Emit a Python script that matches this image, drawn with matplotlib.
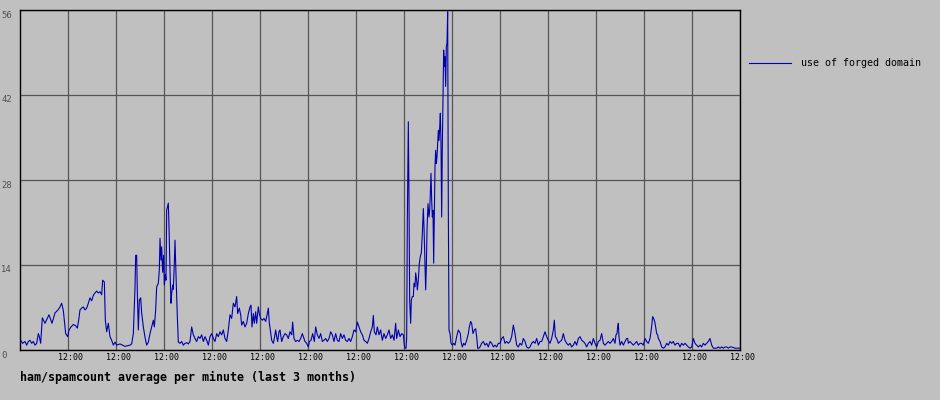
import matplotlib
matplotlib.use("Agg")
import matplotlib.pyplot as plt
from matplotlib.transforms import ScaledTranslation

# time axis in hours since start of the 3 month window (15 x 6 days)
hours = [2, 8, 15, 20, 25, 30, 35, 40, 45, 50, 55, 58, 62, 67, 75, 87, 96, 105, 114, 120, 125, 130,
         133, 137, 143, 147, 153, 160, 167, 172, 176, 180, 185, 190, 195, 200, 205, 210, 215, 220,
         225, 230, 235, 240, 245, 248, 253, 256, 260, 265, 270, 275, 280, 285, 290, 300, 315, 330,
         335, 340, 345, 347, 350, 352, 355, 358, 362, 365, 370, 375, 380, 385, 390, 395, 400, 403,
         407, 410, 415, 418, 420, 423, 425, 428, 431, 433, 436, 438, 440, 445, 447, 450, 453, 455,
         458, 460, 463, 465, 468, 472, 475, 480, 485, 490, 495, 500, 505, 510, 515, 520, 525, 530,
         535, 540, 545, 550, 555, 560, 565, 570, 575, 580, 585, 590, 595, 600, 605, 610, 615, 620,
         625, 630, 635, 640, 645, 650, 653, 658, 662, 665, 670, 675, 680, 685, 690, 693, 696, 700,
         703, 707, 710, 715, 718, 722, 727, 732, 737, 742, 745, 748, 751, 755, 760, 763, 767, 770,
         773, 777, 780, 785, 790, 795, 800, 805, 810, 815, 818, 822, 827, 832, 837, 842, 847, 850,
         855, 860, 865, 868, 873, 878, 883, 887, 892, 897, 902, 907, 912, 917, 922, 927, 932, 937,
         942, 947, 952, 957, 962, 967, 972, 977, 982, 987, 992, 997, 1002, 1007, 1012, 1017, 1022,
         1027, 1032, 1037, 1042, 1047, 1052, 1057, 1060, 1063, 1068, 1072, 1077, 1082, 1087, 1092,
         1097, 1102, 1107, 1112, 1117, 1122, 1127, 1130, 1135, 1140, 1145, 1150, 1153, 1155, 1158,
         1160, 1162, 1165, 1167, 1169, 1172, 1174, 1177, 1180, 1182, 1185, 1187, 1190, 1192, 1195,
         1198, 1201, 1204, 1207, 1210, 1212, 1215, 1217, 1219, 1221, 1224, 1227, 1229, 1231, 1233,
         1235, 1237, 1239, 1241, 1243, 1245, 1247, 1249, 1251, 1253, 1255, 1257, 1259, 1261, 1263,
         1265, 1267, 1269, 1271, 1273, 1275, 1277, 1279, 1281, 1283, 1285, 1287, 1290, 1293, 1297,
         1301, 1305, 1310, 1315, 1318, 1321, 1323, 1327, 1331, 1335, 1340, 1345, 1348, 1352, 1355,
         1359, 1363, 1367, 1370, 1373, 1377, 1380, 1385, 1390, 1395, 1400, 1405, 1410, 1415, 1420,
         1425, 1430, 1435, 1440, 1445, 1450, 1455, 1460, 1465, 1470, 1475, 1480, 1485, 1490, 1495,
         1500, 1505, 1510, 1515, 1520, 1525, 1530, 1535, 1540, 1545, 1550, 1555, 1560, 1565, 1570,
         1575, 1580, 1585, 1590, 1595, 1600, 1603, 1606, 1610, 1615, 1620, 1625, 1630, 1635, 1640,
         1645, 1650, 1655, 1660, 1665, 1670, 1675, 1680, 1685, 1690, 1695, 1700, 1705, 1710, 1715,
         1720, 1725, 1730, 1735, 1740, 1745, 1750, 1755, 1760, 1765, 1770, 1775, 1780, 1785, 1788,
         1791, 1793, 1795, 1797, 1800, 1805, 1810, 1815, 1820, 1823, 1825, 1830, 1835, 1840, 1845,
         1850, 1855, 1860, 1865, 1870, 1875, 1880, 1885, 1890, 1893, 1896, 1898, 1901, 1904, 1907,
         1910, 1913, 1915, 1920, 1925, 1930, 1935, 1940, 1945, 1950, 1955, 1960, 1965, 1970, 1975,
         1980, 1985, 1990, 1995, 2000, 2005, 2010, 2015, 2020, 2025, 2030, 2035, 2040, 2045, 2050,
         2055, 2060, 2065, 2070, 2075, 2080, 2085, 2090, 2095, 2100, 2105, 2110, 2115, 2120, 2125,
         2130, 2135, 2140, 2145, 2150, 2155, 2160]

forged = [1.6, 1.1, 1.4, 0.8, 1.4, 1.6, 1.1, 1.4, 0.8, 1.1, 2.7, 2.2, 1.1, 5.3, 4.4, 5.8, 4.4, 6.1, 6.6, 7.1, 7.7, 6.5,
          4.9, 2.7, 2.2, 3.3, 3.8, 4.2, 4.0, 3.6, 4.9, 6.6, 6.9, 7.1, 6.6, 6.9, 7.7, 8.6, 8.1, 9.0,
          9.4, 9.7, 9.4, 9.6, 9.1, 11.5, 11.2, 4.9, 3.0, 4.4, 2.2, 1.6, 0.8, 1.3, 0.8, 1.0, 0.6, 0.8,
          1.0, 2.7, 10.2, 15.6, 15.6, 9.5, 3.3, 8.2, 8.6, 6.1, 3.8, 2.1, 0.8, 1.3, 2.7, 3.8, 4.9, 3.8,
          6.6, 10.4, 11.0, 13.2, 18.4, 14.8, 17.0, 12.8, 15.6, 10.7, 12.4, 11.5, 23.0, 24.2, 20.3, 13.2, 7.7, 9.3,
          10.7, 10.0, 14.3, 18.1, 12.4, 5.5, 1.3, 1.1, 1.4, 0.8, 1.1, 1.2, 1.0, 1.4, 3.8, 2.5, 1.9, 1.4,
          2.2, 1.9, 2.5, 1.4, 2.2, 1.6, 0.8, 2.2, 2.7, 1.9, 1.4, 2.7, 2.2, 3.0, 2.5, 3.3, 1.9, 1.4,
          3.3, 5.8, 5.2, 7.7, 7.1, 8.8, 6.0, 6.9, 5.8, 4.1, 4.7, 3.8, 4.4, 6.0, 7.1, 7.4, 3.8, 6.0,
          4.4, 6.3, 4.4, 7.1, 6.0, 5.2, 4.9, 5.2, 4.7, 6.0, 6.9, 4.4, 3.3, 1.6, 1.1, 1.9, 3.3, 2.2,
          1.4, 3.0, 3.3, 1.4, 2.2, 2.7, 2.5, 1.9, 3.0, 2.5, 4.6, 1.9, 1.4, 1.6, 1.4, 1.9, 2.7, 2.2,
          1.4, 1.1, 0.5, 1.4, 1.6, 2.7, 1.4, 3.8, 2.5, 1.9, 2.7, 1.4, 1.6, 1.9, 1.4, 1.9, 3.0, 2.5,
          1.4, 2.7, 1.6, 1.4, 2.7, 1.9, 2.5, 1.6, 1.4, 1.9, 1.4, 2.2, 3.3, 3.0, 4.6, 3.8, 3.0,
          2.5, 1.6, 1.4, 1.1, 1.9, 3.0, 3.8, 5.7, 3.0, 2.5, 3.8, 2.5, 3.3, 1.6, 2.7,
          1.9, 2.5, 3.3, 1.9, 2.5, 1.6, 4.4, 1.9, 3.3, 2.2, 2.7, 2.5, 0.8, 0.3, 0.3,
          1.9, 21.4, 37.6, 24.7, 8.2, 4.4, 8.2, 8.8, 8.8, 11.0, 10.4, 12.7, 11.5, 9.9, 11.5,
          14.3, 15.4, 16.0, 19.2, 23.3, 20.3, 14.3, 9.9, 13.7, 19.8, 24.1, 21.9, 23.0, 25.8, 29.1,
          24.7, 21.9, 23.0, 14.3, 21.9, 30.2, 32.9, 30.7, 31.8, 34.0, 36.2, 34.5, 36.5, 39.0, 34.0,
          21.9, 33.5, 41.7, 49.4, 46.7, 48.3, 43.4, 50.0, 50.5, 55.7, 23.0, 3.3, 2.7, 1.1, 0.8,
          1.1, 0.8, 2.2, 3.3, 3.0, 2.7, 1.4, 0.5, 1.1, 0.8, 1.6, 2.7, 3.8, 4.7, 4.4,
          2.7, 3.3, 3.5, 2.2, 0.3, 0.3, 0.5, 1.1, 1.4, 0.8, 1.1, 0.5, 1.4, 1.1, 0.5,
          0.8, 0.5, 1.1, 1.1, 1.9, 2.2, 1.1, 1.4, 1.1, 1.4, 2.2, 4.1, 2.7, 0.8, 0.5,
          1.1, 0.8, 1.9, 1.4, 0.5, 0.3, 0.5, 1.1, 1.4, 1.1, 1.9, 0.8, 1.4, 1.4, 2.2,
          3.0, 2.2, 1.6, 1.1, 1.9, 3.3, 4.9, 2.2, 1.9, 1.1, 1.4, 1.6, 2.7, 1.6, 1.1,
          0.8, 1.1, 0.5, 0.8, 1.4, 0.8, 1.9, 2.2, 1.6, 1.4, 1.1, 0.5, 1.1, 1.4, 0.8,
          1.9, 1.1, 0.5, 1.4, 1.6, 2.7, 1.1, 0.8, 1.1, 1.4, 1.1, 1.4, 1.9, 1.1, 2.5,
          2.7, 3.8, 4.4, 2.2, 0.8, 1.4, 0.8, 1.4, 1.9, 1.9, 1.1, 1.4, 1.1, 0.8, 1.1,
          1.4, 0.8, 1.1, 1.1, 0.8, 1.9, 1.4, 1.1, 1.9, 3.0, 4.4, 5.5, 5.2, 4.7, 3.8,
          2.7, 2.5, 1.9, 1.4, 0.5, 0.3, 0.5, 1.1, 0.8, 1.4, 1.1, 1.4, 0.8, 1.1, 1.1,
          0.5, 1.1, 0.8, 1.1, 0.8, 0.5, 0.3, 0.5, 1.9, 1.1, 0.8, 0.5, 0.8, 0.5, 1.1,
          0.8, 1.1, 1.4, 1.9, 0.8, 0.3, 0.3, 0.3, 0.5, 0.3, 0.5, 0.3, 0.5, 0.5, 0.3,
          0.5, 0.5, 0.4, 0.3, 0.3, 0.3, 0.3]

y_ticks = [0, 14, 28, 42, 56]
x_ticks = [144 * k for k in range(1, 16)]
x_labels = ["12:00"] * 15
series_name = "use of forged domain"
title = "ham/spamcount average per minute (last 3 months)"

bg = "#c0c0c0"
grid_col = "#555555"
line_col = "#0000b0"
mono = "DejaVu Sans Mono"

fig = plt.figure(figsize=(9.4, 4), dpi=100, facecolor=bg)
ax = fig.add_axes([20 / 940, 50 / 400, 720 / 940, 340 / 400], facecolor=bg)

ax.plot(hours, forged, color=line_col, lw=0.8, label=series_name, zorder=3)

ax.set_xlim(0, 2160)
ax.set_ylim(0, 56)
ax.set_xticks(x_ticks)
ax.set_xticklabels(x_labels, fontfamily=mono, fontsize=6.0, color="black")
ax.set_yticks(y_ticks)
ax.set_yticklabels([str(v) for v in y_ticks], fontfamily=mono, fontsize=6.4, color="#505050")
ax.tick_params(length=0)
ax.tick_params(axis="x", pad=2.5)
ax.tick_params(axis="y", pad=13.5)
for lab in ax.get_yticklabels():
    lab.set_ha("left")
    lab.set_va("top")
    lab.set_transform(lab.get_transform() + ScaledTranslation(0, -0.005, fig.dpi_scale_trans))
for lab in ax.get_xticklabels():
    lab.set_transform(lab.get_transform() + ScaledTranslation(0.025, 0, fig.dpi_scale_trans))
ax.grid(True, color=grid_col, lw=0.9, zorder=1)

for side in ["left", "bottom", "top", "right"]:
    ax.spines[side].set_color("black")
    ax.spines[side].set_linewidth(1.0)

leg = fig.legend(loc="upper left", bbox_to_anchor=(745 / 940, 1 - 54 / 400),
                 frameon=False, prop={"family": mono, "size": 7.2},
                 handlelength=4.2, handletextpad=1.0, borderaxespad=0)

fig.text(20 / 940, 1 - 377 / 400, title, fontfamily=mono, fontweight="bold",
         fontsize=8.4, va="center", ha="left")

fig.savefig("out.png", dpi=100, facecolor=bg)
